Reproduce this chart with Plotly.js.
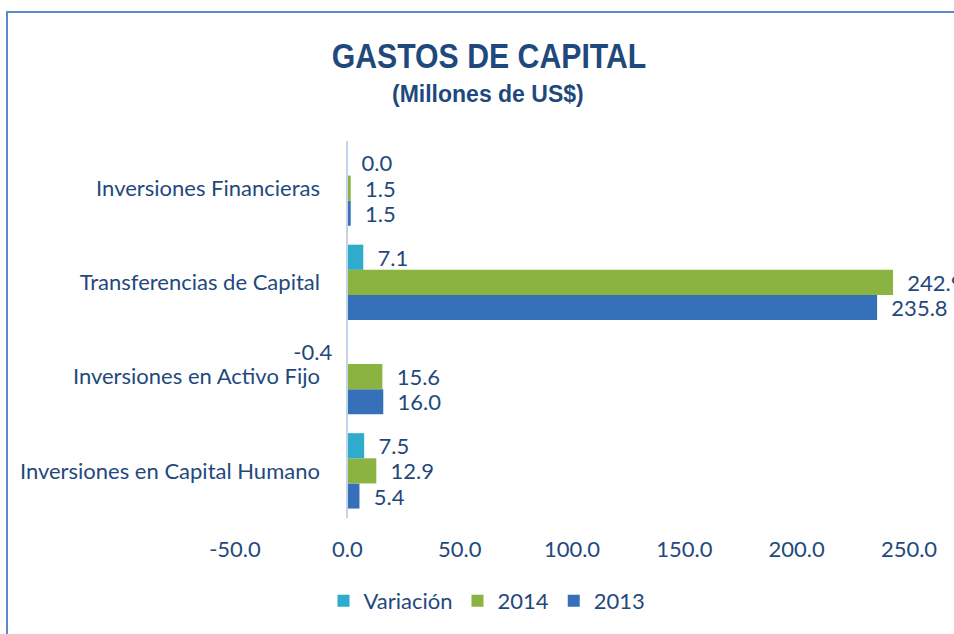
<!DOCTYPE html>
<html>
<head>
<meta charset="utf-8">
<script src="https://cdn.plot.ly/plotly-3.0.1.min.js"></script>
<style>
  html, body { margin: 0; padding: 0; background: #fff; overflow: hidden; }
  #wrap { position: relative; width: 954px; height: 634px; overflow: hidden; }
  #chart { width: 954px; height: 634px; }
  #frame { position: absolute; left: 6px; top: 11px; width: 2000px; height: 2000px;
           border: 2px solid #5b8ac6; pointer-events: none; box-sizing: border-box; }
</style>
</head>
<body>
<div id="wrap"><div id="chart"></div><div id="frame"></div></div>
<script>
const categories = ["Inversiones en Capital Humano", "Inversiones en Activo Fijo", "Transferencias de Capital", "Inversiones Financieras"];
const values2013 = [5.4, 16.0, 235.8, 1.5];
const values2014 = [12.9, 15.6, 242.9, 1.5];
const valuesVariacion = [7.5, -0.4, 7.1, 0.0];
const seriesNames = ["2013", "2014", "Variación"];
const xTicks = [-50, 0, 50, 100, 150, 200, 250];
const xTickText = xTicks.map(v => v.toFixed(1));

const colors = ["#3670b8", "#8ab341", "#2fabcc"];
const fontFam = "Lato, 'Open Sans', sans-serif";
const textColor = "#1f497d";
const fs = 22;
const pad = "\u00a0\u00a0";
function lab(v) { const s = v.toFixed(1); return v < 0 ? s + pad : pad + s; }

const series = [values2013, values2014, valuesVariacion];
const traces = series.map((vals, i) => ({
  type: "bar",
  orientation: "h",
  name: seriesNames[i],
  y: categories,
  x: vals,
  text: vals.map(lab),
  textposition: "outside",
  texttemplate: "%{text}",
  cliponaxis: false,
  constraintext: "none",
  textfont: { family: fontFam, size: fs, color: textColor },
  marker: { color: colors[i], line: { width: 0 } },
  hoverinfo: "x+y+name"
}));

const titleFont = "'Liberation Sans Narrow', 'Arial Narrow', 'Liberation Sans', Arial, sans-serif";
const layout = {
  width: 954, height: 634,
  margin: { l: 235, r: 45, t: 141, b: 116 },
  paper_bgcolor: "#ffffff", plot_bgcolor: "#ffffff",
  barmode: "group", bargap: 0.2, bargroupgap: 0,
  font: { family: fontFam, color: textColor, size: fs },
  title: {
    text: "<b>GASTOS DE CAPITAL</b>",
    font: { family: titleFont, size: 36, color: "#1f497d" },
    x: 489 / 954, xanchor: "center", xref: "container",
    y: 1 - 55 / 634, yanchor: "middle", yref: "container"
  },
  annotations: [{
    text: "<b>(Millones de US$)</b>",
    xref: "paper", yref: "paper",
    x: (488 - 235) / 674, y: (518 - 94) / 377,
    xanchor: "center", yanchor: "middle", showarrow: false,
    font: { family: titleFont, size: 23, color: "#1f497d" }
  }],
  xaxis: {
    range: [-50, 250],
    tickvals: xTicks,
    ticktext: xTickText,
    showgrid: false, zeroline: false, showline: false,
    ticks: "", ticklabelstandoff: 16,
    tickfont: { family: fontFam, size: fs, color: textColor },
    fixedrange: true
  },
  yaxis: {
    type: "category",
    categoryorder: "array", categoryarray: categories,
    anchor: "free", position: 50 / 300,
    showline: true, linecolor: "#c3d3e8", linewidth: 2,
    showgrid: false, zeroline: false,
    ticks: "", ticklabelstandoff: 22,
    tickfont: { family: fontFam, size: fs, color: textColor },
    fixedrange: true
  },
  legend: {
    orientation: "h", traceorder: "reversed",
    x: (487 - 235) / 674, xanchor: "center",
    y: (518 - 601) / 377, yanchor: "middle",
    font: { family: fontFam, size: fs, color: textColor },
    itemwidth: 30
  },
  showlegend: true
};

Plotly.newPlot("chart", traces, layout, { displayModeBar: false, staticPlot: true }).then(() => {
  const t = document.querySelector("#chart .gtitle");
  if (t) {
    const cx = 489;
    t.setAttribute("transform", "translate(" + cx + ",0) scale(0.84,1) translate(" + (-cx) + ",0)");
  }
});
</script>
</body>
</html>
